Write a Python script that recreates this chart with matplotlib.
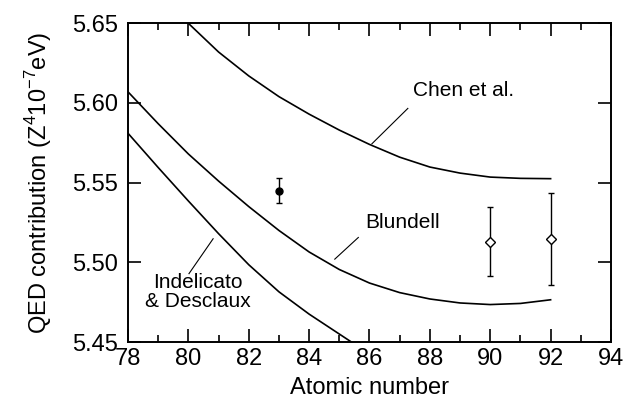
import matplotlib.pyplot as plt
from matplotlib.ticker import MultipleLocator

plt.rcParams['font.family'] = 'Liberation Sans'

# curves
z_chen = [80, 81, 82, 83, 84, 85, 86, 87, 88, 89, 90, 91, 92]
qed_chen = [5.650, 5.632, 5.617, 5.604, 5.593, 5.583, 5.574, 5.566, 5.5598, 5.556, 5.5535, 5.5527, 5.5525]

z_blundell = [78, 79, 80, 81, 82, 83, 84, 85, 86, 87, 88, 89, 90, 91, 92]
qed_blundell = [5.607, 5.587, 5.568, 5.551, 5.535, 5.520, 5.5065, 5.4955, 5.487, 5.481, 5.477, 5.4745, 5.4735, 5.4742, 5.4765]

z_indelicato = [78, 79, 80, 81, 82, 83, 84, 85, 85.4]
qed_indelicato = [5.581, 5.5595, 5.5385, 5.518, 5.4985, 5.4815, 5.4675, 5.455, 5.450]

# measurements
z_filled = [83]
qed_filled = [5.545]
err_filled = [0.008]

z_open = [90, 92]
qed_open = [5.513, 5.5146]
err_open = [0.0215, 0.029]

fig = plt.figure(figsize=(6.34, 4.07), dpi=100)
ax = fig.add_axes([0.2019, 0.1597, 0.7618, 0.783])

ax.plot(z_chen, qed_chen, color='k', lw=1.2)
ax.plot(z_blundell, qed_blundell, color='k', lw=1.2)
ax.plot(z_indelicato, qed_indelicato, color='k', lw=1.2)

ax.errorbar(z_filled, qed_filled, yerr=err_filled, fmt='o', ms=5, color='k',
            elinewidth=1, capsize=2.5, capthick=1)
ax.errorbar(z_open, qed_open, yerr=err_open, fmt='D', ms=5, color='k', mfc='white',
            mec='k', mew=1, elinewidth=1, capsize=2.5, capthick=1)

# labels with pointer lines
ax.text(87.45, 5.608, 'Chen et al.', va='center', ha='left', fontsize=15)
ax.plot([87.27, 86.08], [5.5966, 5.5744], color='k', lw=0.8)

ax.text(85.85, 5.525, 'Blundell', va='center', ha='left', fontsize=15)
ax.plot([85.63, 84.85], [5.5156, 5.502], color='k', lw=0.8)

ax.text(80.3, 5.4814, 'Indelicato\n& Desclaux', va='center', ha='center', fontsize=15,
        linespacing=0.95)
ax.plot([80.02, 80.82], [5.4929, 5.5148], color='k', lw=0.8)

ax.set_xlim(78, 94)
ax.set_ylim(5.45, 5.65)
ax.xaxis.set_major_locator(MultipleLocator(2))
ax.xaxis.set_minor_locator(MultipleLocator(1))
ax.yaxis.set_major_locator(MultipleLocator(0.05))
ax.yaxis.set_major_formatter(plt.FormatStrFormatter('%.2f'))

ax.tick_params(which='both', direction='in', top=True, right=True, labelsize=17, width=1.2)
ax.tick_params(which='major', length=9.5)
ax.tick_params(which='minor', length=5)
ax.tick_params(axis='y', pad=7)
ax.tick_params(axis='x', pad=4)
for s in ax.spines.values():
    s.set_linewidth(1.4)

ax.set_xlabel('Atomic number', fontsize=17, labelpad=5)
ax.set_ylabel(r'QED contribution (Z$^\mathregular{4}$10$^\mathregular{-7}$eV)', fontsize=17, labelpad=13)

fig.savefig('out.png', dpi=100)
